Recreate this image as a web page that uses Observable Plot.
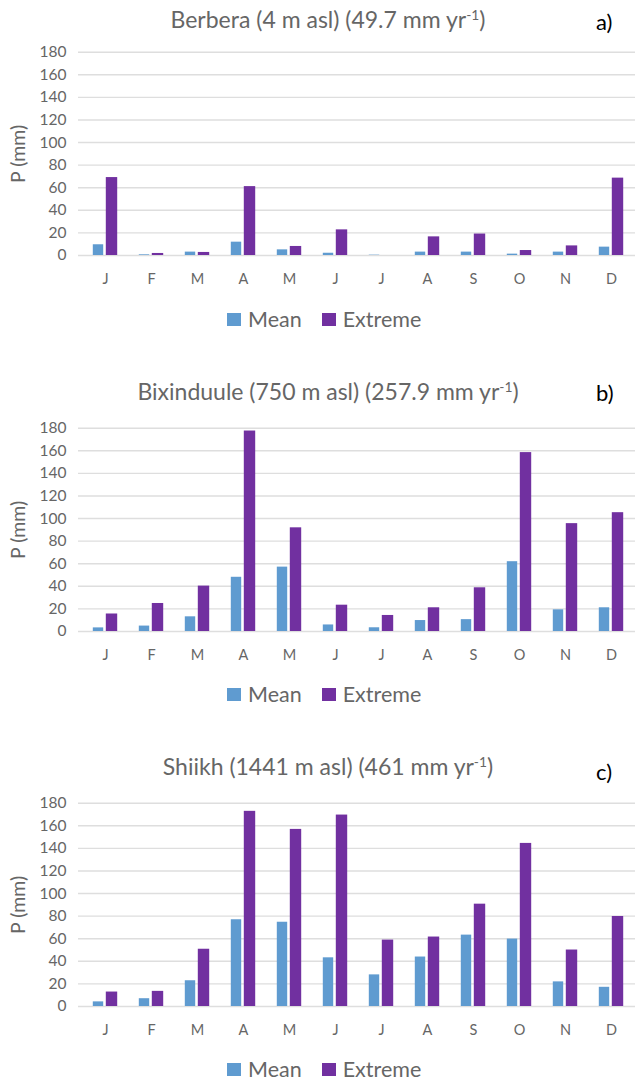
<!DOCTYPE html>
<html>
<head>
<meta charset="utf-8">
<script src="https://cdn.jsdelivr.net/npm/d3@7"></script>
<script src="https://cdn.jsdelivr.net/npm/@observablehq/plot@0.6"></script>
<style>
  html, body { margin: 0; padding: 0; background: #fff; }
  #root { position: relative; width: 635px; height: 1083px; overflow: hidden; font-family: Lato, "Open Sans", sans-serif; }
  .panel { position: absolute; left: 0; width: 635px; height: 376px; }
  .panel svg { position: absolute; left: 0; top: 0; overflow: visible; }
  .title { position: absolute; left: 0; width: 656px; text-align: center; font-size: 23px; color: #666; white-space: nowrap; line-height: 1; }
  .title sup { font-size: 0.6em; vertical-align: 0; position: relative; top: -0.55em; }
  .tag { position: absolute; left: 596px; font-size: 22px; color: #000; line-height: 1; }
  .legend { position: absolute; left: 227px; display: flex; align-items: center; font-size: 21.5px; color: #666; line-height: 1; }
  .sw { width: 14px; height: 13px; display: inline-block; }
</style>
</head>
<body>
<div id="root"></div>
<script>
const months = ["J","F","M","A","M","J","J","A","S","O","N","D"];
const yTicks = [0,20,40,60,80,100,120,140,160,180];
const seriesNames = ["Mean","Extreme"];
const seriesColors = ["#5f9bd0","#7130a0"];

const stationNames = ["Berbera (4 m asl) (49.7 mm yr", "Bixinduule (750 m asl) (257.9 mm yr", "Shiikh (1441 m asl) (461 mm yr"];
const panelTags = ["a)","b)","c)"];

const berberaMean    = [9.5, 0.6, 3.0, 11.8, 5.0, 2.0, 0.3, 3.0, 3.0, 1.2, 3.0, 7.4];
const berberaExtreme = [69.0, 1.8, 2.7, 61.0, 8.0, 22.7, 0, 16.5, 19.0, 4.4, 8.5, 68.5];

const bixMean    = [3.2, 4.8, 13.0, 48.0, 57.0, 5.8, 3.3, 9.7, 10.5, 61.8, 19.2, 21.0];
const bixExtreme = [15.5, 24.8, 40.2, 177.5, 91.8, 23.3, 14.2, 21.0, 38.7, 158.4, 95.5, 105.2];

const shiikhMean    = [4.1, 6.9, 22.8, 76.8, 74.6, 43.1, 28.0, 43.8, 63.2, 59.7, 21.8, 17.0];
const shiikhExtreme = [12.8, 13.4, 50.7, 172.8, 156.8, 169.5, 58.8, 61.5, 90.6, 144.4, 50.0, 79.7];

const panels = [
  {name: stationNames[0], tag: panelTags[0], mean: berberaMean, ext: berberaExtreme, top: 0, titleY: 8, tagY: 11, legendY: 309},
  {name: stationNames[1], tag: panelTags[1], mean: bixMean, ext: bixExtreme, top: 376, titleY: 4, tagY: 6, legendY: 308},
  {name: stationNames[2], tag: panelTags[2], mean: shiikhMean, ext: shiikhExtreme, top: 751, titleY: 4, tagY: 10, legendY: 308}
];

const root = document.getElementById("root");

panels.forEach(p => {
  const rows = months.map((m, i) => ({i, mean: p.mean[i], ext: p.ext[i]}));
  const chart = Plot.plot({
    width: 635,
    height: 300,
    marginLeft: 78,
    marginRight: 0,
    marginTop: 51.7,
    marginBottom: 45,
    style: {fontFamily: "Lato, 'Open Sans', sans-serif", background: "transparent"},
    x: {type: "band", domain: d3.range(12), range: [78, 637.4], padding: 0, axis: null},
    y: {domain: [0, 180], axis: null},
    marks: [
      Plot.ruleY(yTicks, {stroke: "#dedede", strokeWidth: 1.4}),
      Plot.barY(rows, {x: "i", y: "mean", fill: seriesColors[0], insetLeft: 10.8, insetRight: 24.8}),
      Plot.barY(rows, {x: "i", y: "ext", fill: seriesColors[1], insetLeft: 23.8, insetRight: 10.8}),
      Plot.axisX(d3.range(12), {tickSize: 0, tickPadding: 18, fontSize: 14.5, fill: "#666", tickFormat: i => months[i], label: null}),
      Plot.axisY(yTicks, {tickSize: 0, tickPadding: 12, fontSize: 15.5, fill: "#666", label: null}),
      Plot.text(["P (mm)"], {frameAnchor: "left", dx: -60, rotate: -90, fontSize: 19.5, fill: "#666", textAnchor: "middle"})
    ]
  });
  const div = document.createElement("div");
  div.className = "panel";
  div.style.top = p.top + "px";
  div.appendChild(chart);

  const t = document.createElement("div");
  t.className = "title";
  t.style.top = p.titleY + "px";
  t.innerHTML = p.name + "<sup>-1</sup>)";
  div.appendChild(t);

  const tag = document.createElement("div");
  tag.className = "tag";
  tag.style.top = p.tagY + "px";
  tag.textContent = p.tag;
  div.appendChild(tag);

  const lg = document.createElement("div");
  lg.className = "legend";
  lg.style.top = p.legendY + "px";
  lg.innerHTML = `<span class="sw" style="background:${seriesColors[0]}"></span><span style="margin-left:7px">${seriesNames[0]}</span>` +
                 `<span class="sw" style="background:${seriesColors[1]};margin-left:20px"></span><span style="margin-left:7px">${seriesNames[1]}</span>`;
  div.appendChild(lg);

  root.appendChild(div);
});
</script>
</body>
</html>
